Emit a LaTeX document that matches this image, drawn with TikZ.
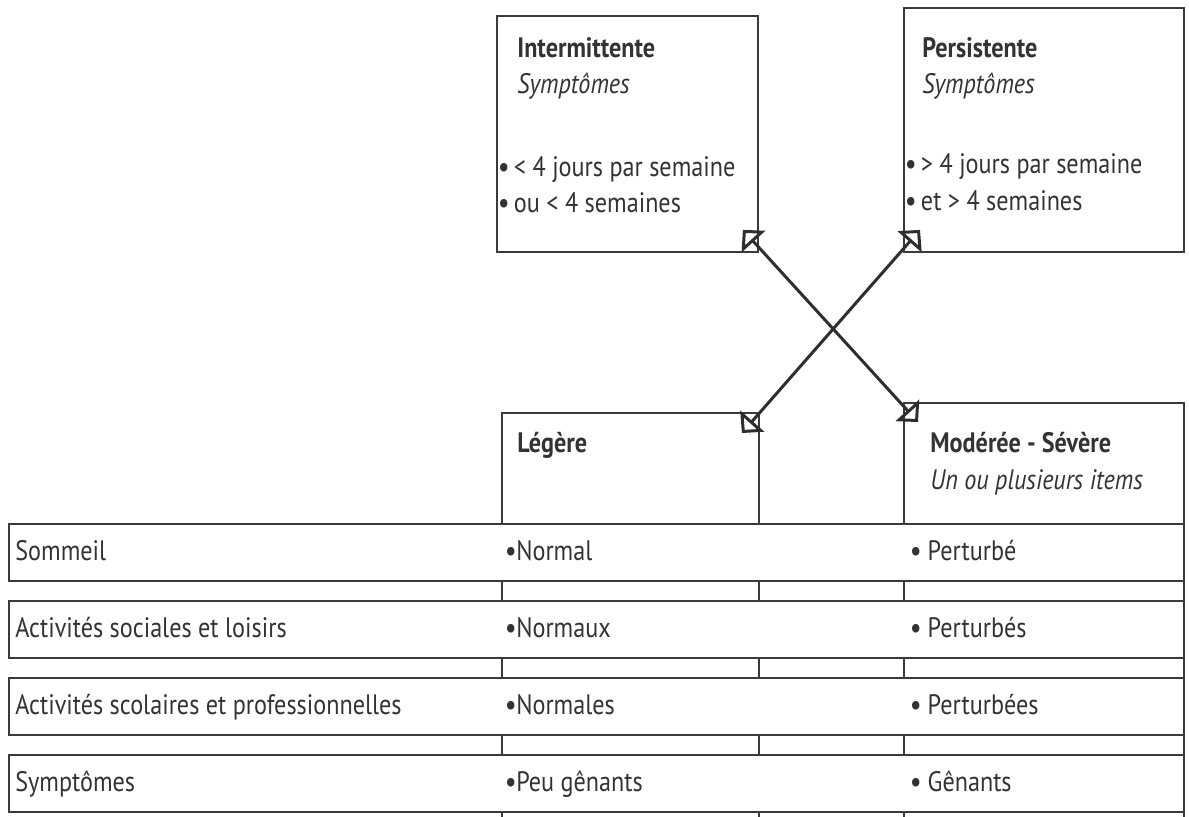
\documentclass[tikz,border=0pt]{standalone}
\usepackage{fontspec}
\setmainfont{PT Sans}[FakeStretch=0.86]
\usetikzlibrary{arrows.meta,positioning}
\definecolor{tabline}{HTML}{3A3A3A}
\definecolor{tabtext}{HTML}{333333}
\newcommand{\tabsize}{\fontsize{16pt}{18pt}\selectfont}
\newcommand{\bul}{{\bfseries\textbullet}}

\begin{document}
\begin{tikzpicture}[x=0.02cm,y=-0.02cm,
  topbox/.style={rectangle,draw=tabline,line width=1.1pt,fill=white,
                 anchor=north west,inner sep=0pt},
  colbox/.style={rectangle,draw=tabline,line width=1.1pt,fill=white,
                 anchor=north west,inner sep=0pt},
  rowbox/.style={rectangle,draw=tabline,line width=1.3pt,fill=white,
                 minimum width=23.5cm,minimum height=1.14cm,
                 anchor=north west,inner sep=0pt},
  head/.style={anchor=base west,inner sep=0pt,font=\tabsize\bfseries,text=tabtext},
  sub/.style={anchor=base west,inner sep=0pt,font=\tabsize\itshape,text=tabtext},
  item/.style={anchor=base west,inner sep=0pt,font=\tabsize,text=tabtext},
  arr/.style={{Triangle[open,length=9pt,width=18pt]}-{Triangle[open,length=9pt,width=18pt]},
              line width=1.7pt,tabline!80!black}
]
  \clip (0,0) rectangle (1189,816);

  % ---- Duration boxes (top row) -------------------------------
  \node[topbox,minimum width=5.22cm,minimum height=4.72cm] (inter) at (496,15) {};
  \node[topbox,minimum width=5.6cm,minimum height=4.88cm] (pers) at (903,7) {};

  \node[head] (interT) at (517,57) {Intermittente};
  \node[sub]  (interS) at (517,93) {Symptômes};
  \node[item] (interA) at (498,176) {\bul\,< 4 jours par semaine};
  \node[item] (interB) at (498,212) {\bul\,ou < 4 semaines};

  \node[head] (persT) at (922,57) {Persistente};
  \node[sub]  (persS) at (922,93) {Symptômes};
  \node[item] (persA) at (905,173) {\bul\,> 4 jours par semaine};
  \node[item] (persB) at (905,210) {\bul\,et > 4 semaines};

  % ---- Severity columns ---------------------------------------
  \node[colbox,minimum width=5.14cm,minimum height=8.2cm] (leg) at (501,412) {};
  \node[colbox,minimum width=5.6cm,minimum height=8.4cm] (mod) at (903,402) {};

  \node[head] (legT) at (517,452) {Légère};
  \node[head] (modT) at (930,452) {Modérée - Sévère};
  \node[sub]  (modS) at (930,489) {Un ou plusieurs items};

  % Crossed arrows between boxes
  \draw[arr] ([xshift=-0.32cm,yshift=0.46cm]inter.south east)
          -- ([xshift=0.3cm,yshift=-0.4cm]mod.north west);
  \draw[arr] ([xshift=-0.36cm,yshift=-0.42cm]leg.north east)
          -- ([xshift=0.34cm,yshift=0.46cm]pers.south west);

  % ---- Criteria rows ------------------------------------------
  \node[rowbox] (r1) at (8,523) {};
  \node[rowbox] (r2) at (8,600) {};
  \node[rowbox] (r3) at (8,677) {};
  \node[rowbox] (r4) at (8,754) {};

  \node[item] (r1a) at (15,560) {Sommeil};
  \node[item] (r1b) at (505,560) {\bul Normal};
  \node[item] (r1c) at (910,560) {\bul\ Perturbé};

  \node[item] (r2a) at (15,637) {Activités sociales et loisirs};
  \node[item] (r2b) at (505,637) {\bul Normaux};
  \node[item] (r2c) at (910,637) {\bul\ Perturbés};

  \node[item] (r3a) at (15,714) {Activités scolaires et professionnelles};
  \node[item] (r3b) at (505,714) {\bul Normales};
  \node[item] (r3c) at (910,714) {\bul\ Perturbées};

  \node[item] (r4a) at (15,791) {Symptômes};
  \node[item] (r4b) at (505,791) {\bul Peu gênants};
  \node[item] (r4c) at (910,791) {\bul\ Gênants};

\end{tikzpicture}
\end{document}
